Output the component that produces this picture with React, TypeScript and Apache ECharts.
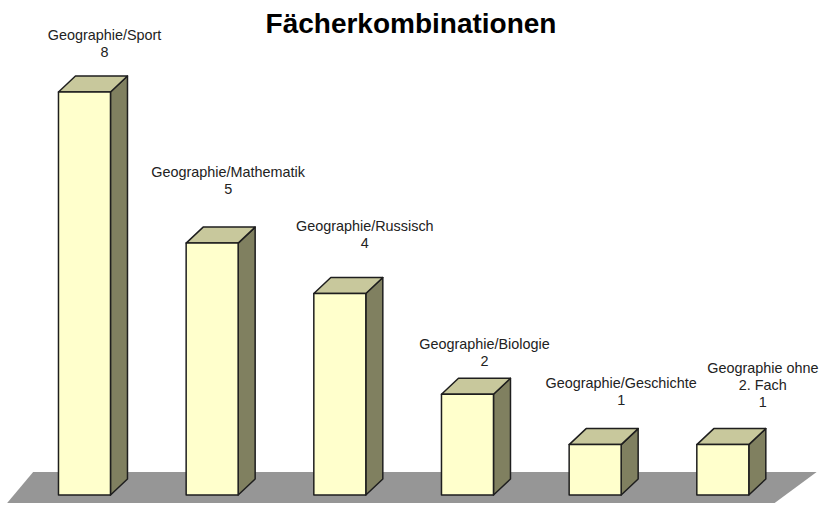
import React, { useEffect, useRef } from "react";
import * as echarts from "echarts";

const title = "Fächerkombinationen";
const categories = [
  "Geographie/Sport",
  "Geographie/Mathematik",
  "Geographie/Russisch",
  "Geographie/Biologie",
  "Geographie/Geschichte",
  "Geographie ohne\n2. Fach",
];
const counts = [8, 5, 4, 2, 1, 1];

// label placement (layout config): offset of label bottom-center from bar front-top-center
const labelShift = [
  [20, -31],
  [16, -46],
  [25, -42],
  [17, -25],
  [26, -36],
  [40, -34],
];

const FRONT = "#FFFFCC";
const SIDE = "#808060";
const TOP = "#C8C89C";
const FLOOR = "#969696";
const EDGE = "#1e1e1e";

export default function App() {
  const ref = useRef<HTMLDivElement>(null);
  useEffect(() => {
    if (!ref.current) return;
    const chart = echarts.init(ref.current, null, { renderer: "svg" });
    const half = 26;
    const ddx = 17;
    const ddy = 16;
    chart.setOption({
      animation: false,
      backgroundColor: "#ffffff",
      title: {
        text: title,
        left: "center",
        top: 4,
        textStyle: {
          fontFamily: "Liberation Sans, Arial, sans-serif",
          fontWeight: "bold",
          fontSize: 28,
          color: "#000000",
        },
      },
      grid: { left: 20.65, right: 35.35, top: 41.6, bottom: 13 },
      xAxis: { type: "category", data: categories, show: false },
      yAxis: { type: "value", min: 0, max: 9, show: false },
      series: [
        {
          type: "custom",
          z: 1,
          silent: true,
          data: [[0, 0]],
          encode: { x: 0, y: 1 },
          renderItem: (params: any, api: any) => {
            const cs = params.coordSys;
            const base = api.coord([0, 0])[1];
            const l = cs.x;
            const r = cs.x + cs.width;
            return {
              type: "polygon",
              shape: {
                points: [
                  [l + 12.5, base - 23],
                  [r + 30, base - 23],
                  [r - 12, base + 8],
                  [l - 13.5, base + 8],
                ],
              },
              style: { fill: FLOOR, stroke: "none" },
            };
          },
        },
        {
          type: "custom",
          z: 2,
          silent: true,
          data: counts.map((v, i) => [i, v]),
          encode: { x: 0, y: 1 },
          renderItem: (params: any, api: any) => {
            const i = api.value(0);
            const v = api.value(1);
            const [cx, yt] = api.coord([i, v]);
            const yb = api.coord([i, 0])[1];
            const L = cx - half;
            const R = cx + half;
            const edge = { stroke: EDGE, lineWidth: 1.5, lineJoin: "round" };
            const sh = labelShift[i];
            return {
              type: "group",
              children: [
                {
                  type: "polygon",
                  shape: {
                    points: [
                      [R, yt],
                      [R + ddx, yt - ddy],
                      [R + ddx, yb - ddy],
                      [R, yb],
                    ],
                  },
                  style: { fill: SIDE, ...edge },
                },
                {
                  type: "polygon",
                  shape: {
                    points: [
                      [L, yt],
                      [L + ddx, yt - ddy],
                      [R + ddx, yt - ddy],
                      [R, yt],
                    ],
                  },
                  style: { fill: TOP, ...edge },
                },
                {
                  type: "rect",
                  shape: { x: L, y: yt, width: R - L, height: yb - yt },
                  style: { fill: FRONT, ...edge },
                },
                {
                  type: "text",
                  x: cx + sh[0],
                  y: yt + sh[1],
                  style: {
                    text: categories[i] + "\n" + v,
                    fill: "#222222",
                    font: "14.4px 'Liberation Sans', Arial, sans-serif",
                    lineHeight: 17,
                    align: "center",
                    verticalAlign: "bottom",
                  },
                },
              ],
            };
          },
        },
      ],
    });
    return () => chart.dispose();
  }, []);
  return (
    <div
      ref={ref}
      style={{ position: "fixed", left: 0, top: 0, width: 822, height: 508 }}
    />
  );
}
